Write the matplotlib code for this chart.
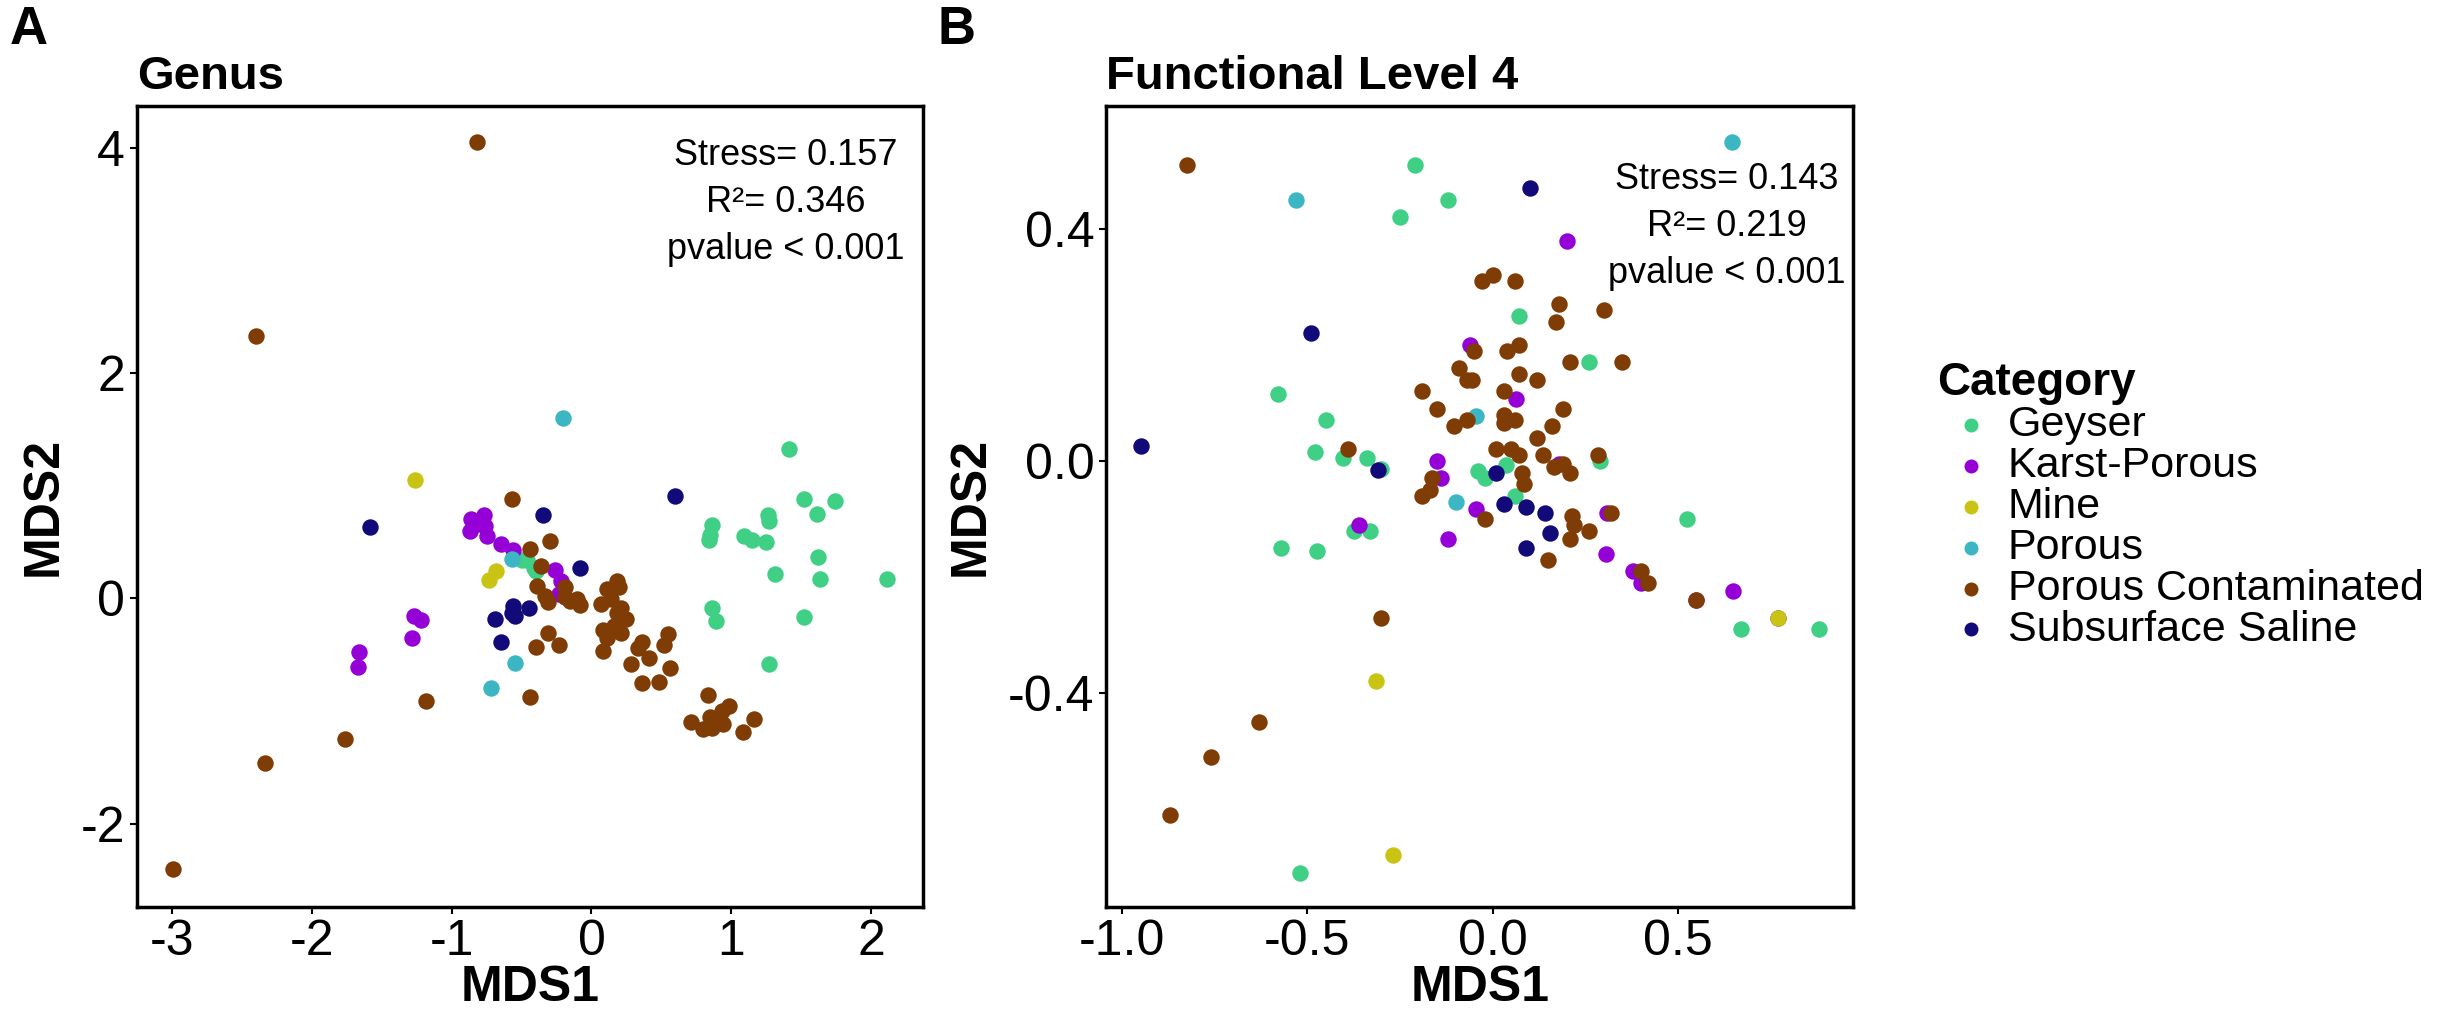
import matplotlib
matplotlib.use("Agg")
import matplotlib.pyplot as plt

plt.rcParams['font.family'] = ['Liberation Sans', 'DejaVu Sans']

categories = ["Geyser", "Karst-Porous", "Mine", "Porous", "Porous Contaminated", "Subsurface Saline"]
colors = ["#3fcf85", "#9400d6", "#c9c414", "#3cb6c3", "#7f3c05", "#120a78"]

# Genus NMDS (MDS1, MDS2)
genus_geyser = [(1.52, 0.88), (1.74, 0.86), (1.61, 0.75), (1.26, 0.74), (1.27, 0.69), (0.86, 0.65),
                (0.85, 0.56), (0.84, 0.52), (1.09, 0.55), (1.15, 0.52), (1.25, 0.50), (1.62, 0.37),
                (1.31, 0.22), (1.63, 0.17), (2.11, 0.17), (0.86, -0.09), (0.89, -0.20), (1.52, -0.17),
                (1.27, -0.58), (1.41, 1.33), (-0.50, 0.34), (-0.46, 0.34), (-0.41, 0.27), (-0.40, 0.24)]
genus_karst = [(-0.86, 0.70), (-0.77, 0.74), (-0.81, 0.66), (-0.76, 0.64), (-0.87, 0.60), (-0.75, 0.55),
               (-0.65, 0.48), (-0.56, 0.43), (-0.26, 0.25), (-0.22, 0.15), (-0.23, 0.04), (-1.27, -0.16),
               (-1.22, -0.19), (-1.28, -0.35), (-1.66, -0.48), (-1.67, -0.61)]
genus_mine = [(-1.26, 1.05), (-0.68, 0.24), (-0.73, 0.16)]
genus_porous = [(-0.57, 0.35), (-0.55, -0.57), (-0.72, -0.80), (-0.20, 1.60)]
genus_contam = [(-0.82, 4.05), (-2.40, 2.33), (-0.57, 0.88), (-0.30, 0.51), (-0.44, 0.44), (-0.36, 0.29),
                (-0.39, 0.11), (-0.33, 0.02), (-0.31, -0.03), (-0.19, 0.10), (-0.19, 0.01), (-0.15, -0.02),
                (-0.10, -0.01), (-0.08, -0.06), (0.07, -0.05), (0.11, 0.08), (0.18, 0.15), (0.20, 0.10),
                (0.14, -0.01), (0.21, -0.09), (0.18, -0.13), (0.25, -0.18), (0.08, -0.28), (0.16, -0.25),
                (0.21, -0.31), (0.11, -0.35), (0.08, -0.47), (-0.31, -0.31), (-0.23, -0.41), (-0.40, -0.43),
                (0.36, -0.39), (0.33, -0.44), (0.41, -0.53), (0.28, -0.58), (0.55, -0.32), (0.52, -0.41),
                (0.56, -0.62), (0.36, -0.75), (0.48, -0.74), (-0.44, -0.88), (-1.18, -0.91), (-1.76, -1.25),
                (-2.33, -1.46), (-2.99, -2.40), (0.83, -0.86), (0.98, -0.96), (0.93, -1.00), (0.85, -1.05),
                (0.71, -1.10), (0.80, -1.16), (0.86, -1.15), (0.94, -1.12), (1.16, -1.07), (1.08, -1.19)]
genus_saline = [(-1.58, 0.63), (-0.35, 0.74), (0.60, 0.91), (-0.08, 0.27), (-0.56, -0.07), (-0.57, -0.13),
                (-0.55, -0.16), (-0.45, -0.09), (-0.69, -0.18), (-0.65, -0.39)]

# Functional level 4 NMDS
func_geyser = [(-0.21, 0.51), (-0.12, 0.45), (-0.25, 0.42), (0.07, 0.25), (0.26, 0.17), (-0.58, 0.115),
               (-0.45, 0.07), (-0.48, 0.015), (-0.405, 0.005), (-0.34, 0.006), (-0.30, -0.014),
               (-0.04, -0.017), (-0.02, -0.03), (0.035, -0.007), (0.29, 0.0), (0.06, -0.06),
               (-0.375, -0.12), (-0.33, -0.12), (-0.57, -0.15), (-0.475, -0.155), (0.525, -0.10),
               (0.67, -0.29), (0.88, -0.29), (-0.52, -0.71)]
func_karst = [(0.20, 0.38), (-0.06, 0.20), (0.063, 0.107), (-0.15, 0.0), (-0.14, -0.03), (0.18, -0.005),
              (-0.36, -0.11), (-0.045, -0.083), (-0.12, -0.135), (0.31, -0.09), (0.305, -0.16),
              (0.38, -0.19), (0.40, -0.21), (0.55, -0.24), (0.65, -0.225), (0.77, -0.27)]
func_mine = [(0.77, -0.27), (-0.315, -0.38), (-0.27, -0.68)]
func_porous = [(0.645, 0.55), (-0.53, 0.45), (-0.045, 0.077), (-0.10, -0.07)]
func_contam = [(-0.825, 0.51), (-0.03, 0.31), (0.00, 0.32), (0.06, 0.31), (0.18, 0.27), (0.17, 0.24),
               (0.30, 0.26), (-0.05, 0.19), (0.04, 0.19), (0.07, 0.20), (-0.09, 0.16), (0.21, 0.17),
               (0.35, 0.17), (-0.07, 0.14), (-0.055, 0.14), (0.07, 0.15), (0.12, 0.14), (-0.19, 0.12),
               (0.03, 0.12), (-0.15, 0.09), (0.19, 0.09), (-0.105, 0.06), (-0.07, 0.07), (0.03, 0.08),
               (0.03, 0.065), (0.06, 0.07), (0.16, 0.06), (0.12, 0.04), (-0.39, 0.02), (0.01, 0.02),
               (0.05, 0.02), (0.07, 0.01), (0.135, 0.01), (0.285, 0.01), (0.165, -0.01), (0.19, -0.005),
               (0.21, -0.02), (0.08, -0.02), (0.085, -0.04), (-0.165, -0.03), (-0.17, -0.05), (-0.19, -0.06),
               (-0.02, -0.10), (0.215, -0.095), (0.22, -0.11), (0.21, -0.135), (0.26, -0.12), (0.32, -0.09),
               (0.15, -0.17), (0.40, -0.19), (0.42, -0.21), (0.55, -0.24), (-0.30, -0.27), (-0.63, -0.45),
               (-0.76, -0.51), (-0.87, -0.61)]
func_saline = [(0.10, 0.47), (-0.49, 0.22), (-0.95, 0.025), (-0.31, -0.016), (0.01, -0.02), (0.03, -0.074),
               (0.09, -0.08), (0.14, -0.09), (0.155, -0.125), (0.09, -0.15)]

genus = [genus_geyser, genus_karst, genus_mine, genus_porous, genus_contam, genus_saline]
func = [func_geyser, func_karst, func_mine, func_porous, func_contam, func_saline]

fig = plt.figure(figsize=(24.42, 10.10), dpi=100)
axA = fig.add_axes([0.056, 0.102, 0.322, 0.793])
axB = fig.add_axes([0.453, 0.102, 0.306, 0.793])


def draw(ax, groups, title, stats, pos, xlim, ylim, xticks, yticks, xlabels, ylabels):
    for pts, c, name in zip(groups, colors, categories):
        ax.scatter([p[0] for p in pts], [p[1] for p in pts], s=140, color=c, label=name,
                   linewidths=0, zorder=3)
    ax.set_xlim(*xlim)
    ax.set_ylim(*ylim)
    ax.set_xticks(xticks)
    ax.set_xticklabels(xlabels)
    ax.set_yticks(yticks)
    ax.set_yticklabels(ylabels)
    ax.tick_params(labelsize=36, length=5, width=1.5)
    for sp in ax.spines.values():
        sp.set_linewidth(2.5)
    ax.set_xlabel("MDS1", fontsize=36, fontweight='bold', labelpad=0)
    ax.set_ylabel("MDS2", fontsize=36, fontweight='bold', labelpad=10)
    ax.set_title(title, fontsize=34, fontweight='bold', loc='left', pad=12)
    ax.text(pos[0], pos[1], stats, transform=ax.transAxes, ha='center', va='top', fontsize=26,
            linespacing=1.45)


draw(axA, genus, "Genus", "Stress= 0.157\nR²= 0.346\npvalue < 0.001", (0.825, 0.96),
     (-3.25, 2.37), (-2.74, 4.37), [-3, -2, -1, 0, 1, 2], [-2, 0, 2, 4],
     ["-3", "-2", "-1", "0", "1", "2"], ["-2", "0", "2", "4"])
draw(axB, func, "Functional Level 4", "Stress= 0.143\nR²= 0.219\npvalue < 0.001", (0.83, 0.93),
     (-1.043, 0.974), (-0.769, 0.612), [-1.0, -0.5, 0.0, 0.5], [-0.4, 0.0, 0.4],
     ["-1.0", "-0.5", "0.0", "0.5"], ["-0.4", "0.0", "0.4"])

handles, labels = axB.get_legend_handles_labels()
leg = fig.legend(handles, labels, loc='upper left', bbox_to_anchor=(0.786, 0.66), frameon=False,
                 fontsize=31, title="Category", markerscale=0.85, handletextpad=0.05,
                 labelspacing=0.02, borderaxespad=0, handlelength=1.6)
leg.get_title().set_fontsize(33)
leg.get_title().set_fontweight('bold')
leg._legend_box.align = "left"

fig.text(0.004, 0.995, "A", fontsize=38, fontweight='bold', va='top')
fig.text(0.384, 0.995, "B", fontsize=38, fontweight='bold', va='top')

fig.savefig("out.png", dpi=100)
